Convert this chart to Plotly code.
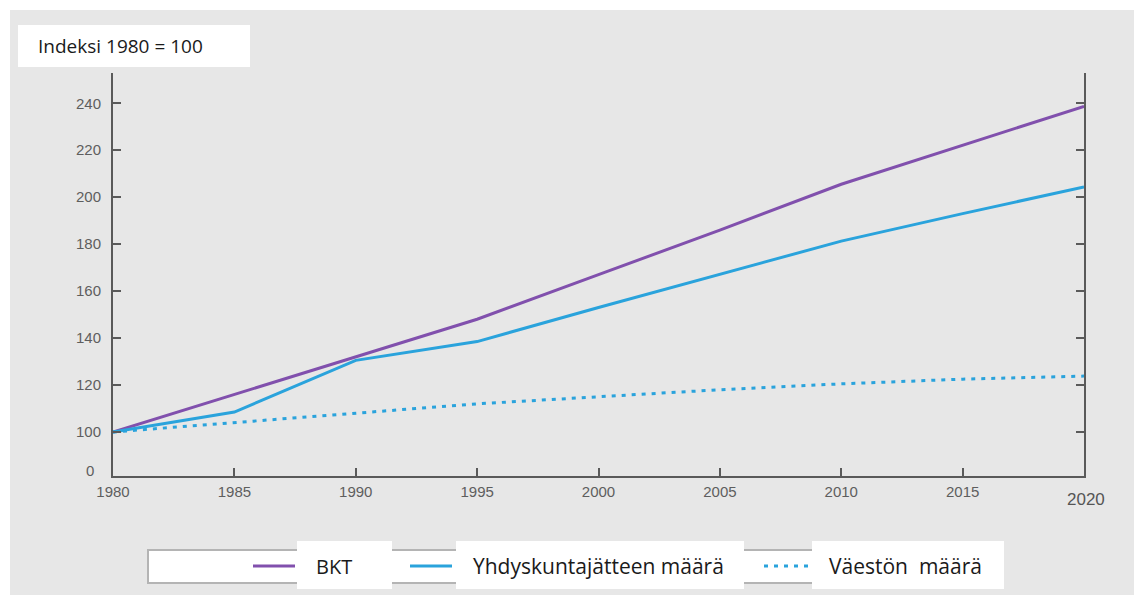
import plotly.graph_objects as go

years_bkt = [1980, 1985, 1990, 1995, 2000, 2005, 2010, 2015, 2020]
bkt = [100, 116, 132, 148, 167, 186, 205.5, 222, 238.7]

years_jate = [1980, 1985, 1990, 1995, 2000, 2005, 2010, 2015, 2020]
jate = [100, 108.5, 130.5, 138.5, 153, 167, 181.3, 193, 204.4]

years_vaesto = [1980, 1985, 1990, 1995, 2000, 2005, 2010, 2015, 2020]
vaesto = [100, 104, 108, 112, 115, 118, 120.5, 122.5, 123.8]

x_ticks = [1980, 1985, 1990, 1995, 2000, 2005, 2010, 2015]
y_ticks = [100, 120, 140, 160, 180, 200, 220, 240]
y_top = 252.8
y_zero_pos = 83.8

series_names = ["BKT", "Yhdyskuntajätteen määrä", "Väestön  määrä"]

PURPLE = "#8150ad"
BLUE = "#2aa3dc"
BG = "#e7e7e7"
AXIS = "#5a5a5a"
TICKFONT = dict(family="Liberation Sans, Arial", size=15, color="#5e5e5e")
TEXTFONT = dict(family="Open Sans, Lato, Liberation Sans", size=19, color="#1a1a1a")
LEGFONT = dict(family="Open Sans, Lato, Liberation Sans", size=21, color="#1a1a1a")

fig = go.Figure()
fig.add_trace(go.Scatter(x=years_bkt, y=bkt, mode="lines", name=series_names[0],
                         line=dict(color=PURPLE, width=3)))
fig.add_trace(go.Scatter(x=years_jate, y=jate, mode="lines", name=series_names[1],
                         line=dict(color=BLUE, width=3)))
fig.add_trace(go.Scatter(x=years_vaesto, y=vaesto, mode="lines", name=series_names[2],
                         line=dict(color=BLUE, width=3, dash="4px,6px")))

W, H = 1134, 595
L, R, T, B = 113, 50, 73, 119
pw, ph = W - L - R, H - T - B


def px(x):
    return (x - L) / pw


def py(y):
    return (H - B - y) / ph


shapes = [
    # gray background panel
    dict(type="rect", xref="paper", yref="paper", x0=px(10), x1=px(1140), y0=py(10), y1=py(600),
         fillcolor=BG, line=dict(width=0), layer="below"),
    # title white box
    dict(type="rect", xref="paper", yref="paper", x0=px(18), x1=px(250), y0=py(25), y1=py(67),
         fillcolor="white", line=dict(width=0), layer="below"),
    # legend outer box
    dict(type="rect", xref="paper", yref="paper", x0=px(148), x1=px(1000), y0=py(550), y1=py(583),
         fillcolor="white", line=dict(color="#b4b4b4", width=2), layer="above"),
    # legend label boxes
    dict(type="rect", xref="paper", yref="paper", x0=px(297), x1=px(392), y0=py(541), y1=py(589),
         fillcolor="white", line=dict(width=0), layer="above"),
    dict(type="rect", xref="paper", yref="paper", x0=px(456), x1=px(744), y0=py(541), y1=py(589),
         fillcolor="white", line=dict(width=0), layer="above"),
    dict(type="rect", xref="paper", yref="paper", x0=px(812), x1=px(1004), y0=py(541), y1=py(589),
         fillcolor="white", line=dict(width=0), layer="above"),
    # legend samples
    dict(type="line", xref="paper", yref="paper", x0=px(253), x1=px(295), y0=py(566), y1=py(566),
         line=dict(color=PURPLE, width=3), layer="above"),
    dict(type="line", xref="paper", yref="paper", x0=px(410), x1=px(452), y0=py(566), y1=py(566),
         line=dict(color=BLUE, width=3), layer="above"),
    dict(type="line", xref="paper", yref="paper", x0=px(764), x1=px(810), y0=py(566), y1=py(566),
         line=dict(color=BLUE, width=3, dash="4px,6px"), layer="above"),
]

annotations = [
    dict(text="Indeksi 1980 = 100", xref="paper", yref="paper", x=px(36), y=py(46),
         xanchor="left", yanchor="middle", showarrow=False, font=TEXTFONT),
    dict(text=series_names[0], xref="paper", yref="paper", x=px(314), y=py(566),
         xanchor="left", yanchor="middle", showarrow=False,
         font=dict(family=LEGFONT["family"], size=20, color="#1a1a1a")),
    dict(text=series_names[1], xref="paper", yref="paper", x=px(471), y=py(566),
         xanchor="left", yanchor="middle", showarrow=False, font=LEGFONT),
    dict(text=series_names[2].replace("  ", "&nbsp; "), xref="paper", yref="paper", x=px(827), y=py(566),
         xanchor="left", yanchor="middle", showarrow=False, font=LEGFONT),
    dict(text="0", xref="paper", yref="y", x=px(96), y=y_zero_pos,
         xanchor="right", yanchor="middle", showarrow=False, font=TICKFONT),
    dict(text="2020", xref="x", yref="paper", x=2020, y=py(500), xshift=2,
         xanchor="center", yanchor="middle", showarrow=False,
         font=dict(family=TICKFONT["family"], size=17, color="#555555")),
]

fig.update_layout(
    width=W, height=H,
    margin=dict(l=L, r=R, t=T, b=B, pad=0),
    paper_bgcolor="white",
    plot_bgcolor="rgba(0,0,0,0)",
    showlegend=False,
    shapes=shapes,
    annotations=annotations,
    xaxis=dict(range=[1980, 2020], tickvals=x_ticks, ticktext=[str(v) for v in x_ticks],
               showgrid=False, zeroline=False, showline=True, linecolor=AXIS, linewidth=2,
               ticks="inside", ticklen=8, tickwidth=2, tickcolor=AXIS, mirror=False,
               tickfont=TICKFONT, ticklabelstandoff=1),
    yaxis=dict(range=[81.25, 252.9], tickvals=y_ticks + [y_top],
               ticktext=[str(v) for v in y_ticks] + [""],
               showgrid=False, zeroline=False, showline=True, linecolor=AXIS, linewidth=2,
               ticks="inside", ticklen=8, tickwidth=2, tickcolor=AXIS, mirror="ticks",
               tickfont=TICKFONT, ticklabelstandoff=7),
)

fig.write_html("out.html", config={"displayModeBar": False},
               post_script="document.body.style.margin='0';")
